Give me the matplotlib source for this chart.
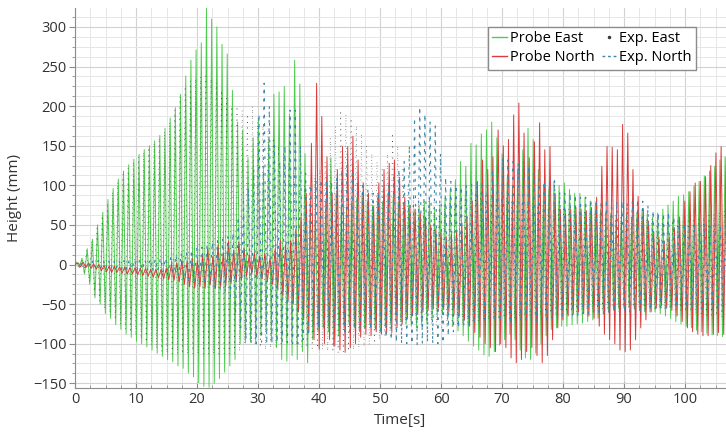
import numpy as np
import matplotlib.pyplot as plt
from matplotlib.lines import Line2D
from matplotlib.ticker import MultipleLocator

plt.rcParams['font.family'] = ['Open Sans', 'DejaVu Sans']

# wave period (about 11-12 crests per 10 s)
period = 0.85

# one crest and one trough per cycle (mm)
east_crest = [
    3, 8, 20, 32, 50, 66, 82, 96, 108, 118,
    126, 133, 139, 145, 150, 156, 163, 172, 185, 198,
    215, 238, 258, 271, 280, 324, 310, 300, 278, 266,
    220, 180, 170, 135, 160, 185, 120, 158, 215, 218,
    225, 190, 258, 228, 140, 80, 60, 70, 80, 135,
    90, 75, 70, 80, 85, 90, 80, 75, 85, 80,
    90, 85, 80, 75, 80, 70, 75, 80, 85, 70,
    75, 85, 95, 107, 130, 124, 153, 151, 165, 170,
    180, 160, 140, 110, 100, 120, 145, 172, 158, 120,
    100, 95, 105, 100, 103, 95, 90, 90, 85, 80,
    75, 70, 65, 65, 60, 60, 65, 60, 65, 70,
    65, 60, 65, 70, 75, 80, 86, 88, 92, 99,
    105, 112, 118, 124, 132, 136]
east_trough = [
    -4, -12, -25, -42, -50, -62, -68, -76, -82, -88,
    -92, -97, -100, -104, -108, -112, -116, -120, -123, -128,
    -131, -137, -142, -149, -154, -155, -150, -144, -136, -128,
    -120, -100, -99, -98, -100, -90, -85, -95, -105, -120,
    -122, -115, -120, -110, -124, -95, -85, -80, -85, -103,
    -90, -80, -75, -80, -85, -80, -75, -80, -85, -80,
    -75, -70, -72, -75, -78, -80, -78, -75, -70, -65,
    -62, -70, -78, -84, -90, -97, -103, -108, -114, -116,
    -110, -102, -95, -88, -95, -108, -118, -120, -112, -100,
    -90, -82, -80, -78, -78, -76, -75, -74, -72, -70,
    -68, -62, -60, -58, -56, -55, -55, -56, -58, -60,
    -60, -60, -62, -65, -68, -72, -75, -78, -80, -83,
    -85, -87, -89, -90, -91, -92]

north_crest = [
    2, 3, 2, 1, 0, -1, -2, -2, -3, -3,
    -4, -4, -5, -5, -6, -6, -6, -5, 0, 2,
    5, 3, 8, 5, 12, 20, 10, 25, 15, 30,
    18, 28, 20, 12, 15, 10, 14, 8, 20, 31,
    25, 30, 45, 60, 90, 153, 229, 187, 136, 90,
    120, 149, 149, 162, 132, 103, 90, 74, 103, 120,
    128, 132, 110, 85, 75, 70, 65, 60, 50, 45,
    40, 35, 38, 42, 50, 60, 80, 105, 132, 120,
    136, 170, 150, 158, 189, 204, 166, 135, 155, 179,
    145, 149, 90, 70, 65, 70, 72, 70, 68, 72,
    85, 124, 149, 148, 145, 177, 166, 120, 86, 70,
    55, 40, 35, 30, 35, 45, 60, 80, 92, 103,
    105, 111, 125, 141, 149, 135]
north_trough = [
    -3, -4, -5, -6, -8, -9, -10, -10, -11, -12,
    -12, -13, -14, -15, -16, -17, -18, -19, -20, -22,
    -25, -28, -30, -28, -30, -25, -30, -28, -26, -24,
    -22, -20, -15, -12, -15, -18, -22, -25, -30, -40,
    -45, -50, -60, -70, -86, -95, -107, -100, -95, -103,
    -108, -111, -105, -100, -92, -88, -90, -85, -88, -87,
    -86, -80, -75, -68, -65, -63, -60, -58, -55, -55,
    -57, -60, -62, -65, -70, -78, -86, -92, -100, -105,
    -110, -100, -105, -118, -124, -120, -110, -105, -115, -124,
    -115, -95, -80, -70, -65, -62, -60, -62, -65, -68,
    -78, -88, -95, -100, -108, -110, -108, -95, -80, -70,
    -60, -55, -52, -55, -58, -65, -72, -80, -85, -88,
    -90, -90, -88, -86, -88, -90]

exp_east_crest = [
    2, 6, 18, 30, 46, 62, 78, 92, 104, 114,
    122, 130, 136, 142, 148, 154, 160, 168, 180, 195,
    212, 225, 232, 235, 237, 238, 235, 230, 220, 210,
    200, 200, 195, 190, 200, 180, 175, 170, 160, 150,
    140, 130, 120, 110, 100, 100, 110, 120, 130, 160,
    175, 195, 190, 185, 175, 165, 150, 140, 130, 120,
    140, 166, 150, 120, 100, 90, 85, 80, 80, 78,
    75, 75, 78, 80, 82, 85, 85, 88, 90, 90,
    88, 85, 85, 85, 82, 80, 80, 80, 78, 75,
    75, 72, 70, 70, 70, 70, 68, 68, 66, 65,
    65, 65, 64, 62, 62, 60, 60, 60, 60, 60,
    58, 58, 58, 58, 56, 56, 55, 55, 55, 56,
    58, 60, 62, 64, 66, 68]
exp_east_trough = [
    -4, -10, -22, -38, -46, -56, -62, -70, -76, -82,
    -86, -90, -94, -98, -102, -106, -110, -112, -113, -113,
    -113, -113, -113, -113, -113, -113, -113, -113, -113, -113,
    -112, -110, -100, -95, -100, -105, -108, -106, -104, -100,
    -98, -100, -102, -104, -105, -106, -106, -108, -110, -111,
    -111, -110, -110, -108, -106, -104, -102, -100, -95, -90,
    -85, -80, -78, -75, -72, -70, -70, -72, -75, -78,
    -80, -80, -78, -76, -75, -74, -72, -72, -70, -70,
    -70, -70, -68, -68, -68, -66, -66, -65, -65, -64,
    -64, -62, -62, -60, -60, -60, -60, -58, -58, -58,
    -56, -56, -55, -55, -55, -54, -54, -54, -54, -55,
    -55, -56, -56, -57, -57, -58, -58, -60, -60, -62,
    -62, -64, -64, -65, -66, -68]

exp_north_crest = [
    2, 3, 4, 5, 5, 5, 5, 5, 5, 5,
    6, 6, 6, 6, 7, 7, 8, 8, 10, 12,
    14, 16, 18, 20, 22, 25, 28, 30, 32, 35,
    40, 60, 80, 95, 120, 190, 229, 200, 150, 130,
    150, 195, 195, 150, 115, 100, 105, 107, 107, 105,
    110, 120, 124, 115, 105, 100, 95, 90, 92, 95,
    100, 110, 120, 130, 150, 185, 199, 190, 180, 175,
    140, 110, 105, 100, 98, 100, 102, 105, 105, 100,
    120, 128, 135, 132, 130, 128, 130, 125, 115, 108,
    105, 105, 107, 92, 90, 90, 88, 85, 85, 82,
    82, 80, 82, 82, 80, 80, 78, 80, 82, 80,
    75, 68, 65, 65, 66, 60, 55, 52, 50, 50,
    50, 52, 50, 50, 50, 50]
exp_north_trough = [
    -2, -3, -3, -4, -4, -5, -5, -5, -6, -6,
    -6, -7, -7, -7, -8, -8, -9, -10, -12, -14,
    -16, -18, -20, -22, -25, -28, -30, -32, -35, -40,
    -60, -80, -95, -100, -100, -98, -100, -100, -98, -97,
    -99, -100, -100, -95, -90, -85, -80, -78, -78, -80,
    -82, -85, -85, -82, -80, -80, -82, -85, -88, -92,
    -95, -98, -100, -100, -100, -102, -100, -98, -100, -100,
    -99, -90, -85, -80, -78, -76, -75, -72, -70, -70,
    -72, -72, -75, -75, -72, -70, -70, -72, -72, -70,
    -70, -68, -66, -65, -65, -64, -64, -62, -62, -60,
    -60, -62, -62, -60, -60, -60, -60, -58, -58, -58,
    -58, -56, -55, -55, -54, -54, -55, -55, -56, -56,
    -56, -57, -57, -58, -58, -58]

labels = ['Probe East', 'Probe North', 'Exp. East', 'Exp. North']
green = '#4fcc4f'
red = '#dc3b3b'
blue = '#3d86a8'
dark = '#3a3a3a'


def zigzag(t0, crest, trough):
    n = min(len(crest), len(trough))
    t = t0 + period * np.arange(n)
    x = np.column_stack([t, t + period / 2]).ravel()
    y = np.column_stack([crest[:n], trough[:n]]).ravel()
    return np.r_[0.0, x], np.r_[0.0, y]


fig = plt.figure(figsize=(7.26, 4.37), dpi=100)
ax = fig.add_axes([75 / 726, 1 - 388 / 437, 651 / 726, 380 / 437])

x, y = zigzag(0.30, east_crest, east_trough)
ax.plot(x, y, color=green, lw=0.7, zorder=3)
x, y = zigzag(0.50, north_crest, north_trough)
ax.plot(x, y, color=red, lw=0.7, zorder=4)
x, y = zigzag(0.20, exp_east_crest, exp_east_trough)
ax.plot(x, y, color=dark, lw=0.5, ls=(0, (1, 7)), zorder=5)
x, y = zigzag(0.40, exp_north_crest, exp_north_trough)
ax.plot(x, y, color=blue, lw=0.8, ls=(0, (2.5, 5)), zorder=5)

ax.set_xlim(0, 106.7)
ax.set_ylim(-156, 324)
ax.xaxis.set_major_locator(MultipleLocator(10))
ax.xaxis.set_minor_locator(MultipleLocator(2.5))
ax.yaxis.set_major_locator(MultipleLocator(50))
ax.yaxis.set_minor_locator(MultipleLocator(12.5))

ax.set_axisbelow(True)
ax.grid(which='major', color='#d2d2d2', lw=0.8)
ax.grid(which='minor', color='#e6e6e6', lw=0.7)

for side in ['top', 'right']:
    ax.spines[side].set_visible(False)
for side in ['left', 'bottom']:
    ax.spines[side].set_color('#8c8c8c')

ax.tick_params(axis='y', which='major', length=4, color='#8c8c8c',
               labelsize=10.5, labelcolor='#333333', pad=2)
ax.tick_params(axis='y', which='minor', length=2, color='#8c8c8c')
ax.tick_params(axis='x', which='major', direction='in', length=4,
               color='#8c8c8c', labelsize=10.5, labelcolor='#333333', pad=3)
ax.tick_params(axis='x', which='minor', direction='in', length=2,
               color='#8c8c8c')

ax.set_xlabel('Time[s]', fontsize=11, color='#333333', labelpad=4)
ax.set_ylabel('Height (mm)', fontsize=11, color='#333333', labelpad=8)

handles = [
    Line2D([], [], color=green, lw=1),
    Line2D([], [], color=red, lw=1),
    Line2D([], [], color=dark, marker='.', ms=3, ls='none'),
    Line2D([], [], color=blue, lw=1, ls=(0, (2, 2))),
]
leg = ax.legend(handles, labels, ncol=2, loc='upper right',
                bbox_to_anchor=(0.954, 0.951), borderaxespad=0,
                fontsize=10.5, handlelength=1.0, handletextpad=0.2,
                columnspacing=0.5, labelspacing=0.3, borderpad=0.3,
                fancybox=False, framealpha=1, edgecolor='#8c8c8c')
leg.get_frame().set_linewidth(1.0)
leg.set_zorder(10)

fig.savefig('out.png', dpi=100)
